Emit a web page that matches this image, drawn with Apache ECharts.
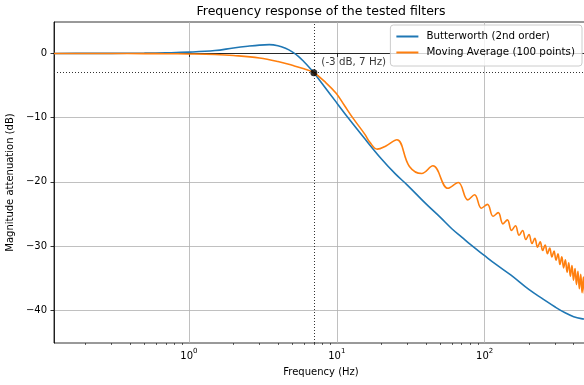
<!DOCTYPE html>
<html>
<head>
<meta charset="utf-8">
<script src="https://cdn.jsdelivr.net/npm/echarts@6/dist/echarts.min.js"></script>
<style>
html,body{margin:0;padding:0;background:#fff;}
#chart{width:584px;height:385px;}
</style>
</head>
<body>
<div id="chart"></div>
<script>
// ---- data ----
const titleText = 'Frequency response of the tested filters';
const xAxisName = 'Frequency (Hz)';
const yAxisName = 'Magnitude attenuation (dB)';
const seriesNames = ['Butterworth (2nd order)', 'Moving Average (100 points)'];

const xRange = [0.1224, 500];
const yRange = [-45.1, 4.9];
const xMajorTicks = [1, 10, 100];
const xMinorTicks = [0.2, 0.3, 0.4, 0.5, 0.6, 0.7, 0.8, 0.9,
  2, 3, 4, 5, 6, 7, 8, 9,
  20, 30, 40, 50, 60, 70, 80, 90,
  200, 300, 400];
const yTicks = [-40, -30, -20, -10, 0];

const butterFreq = [0.1224, 0.2, 0.3, 0.5, 0.7, 1, 1.5, 2, 2.5, 3, 3.5, 4, 4.5, 5, 5.5, 6, 6.5, 7,
  8, 10, 12, 15, 20, 25, 30, 40, 50, 60, 70, 80, 100, 120, 150, 200, 250, 300, 350, 400, 450, 500];
const butterDb = [0, 0.01, 0.02, 0.05, 0.1, 0.2, 0.45, 0.85, 1.12, 1.3, 1.37, 1.2, 0.8, 0.25, -0.45, -1.3, -2.15, -3.0,
  -4.75, -7.7, -10.1, -12.9, -16.4, -18.8, -20.5, -23.4, -25.5, -27.3, -28.6, -29.75, -31.5, -32.9, -34.5, -36.8, -38.3, -39.5, -40.4, -41.0, -41.3, -41.4];

const maFreq = [0.1224, 0.3, 0.5, 0.7, 1, 1.5, 2, 3, 4, 5, 6, 7, 8.3, 9.9, 11.3, 12.8, 15.5, 16.7, 18.8, 21.5, 25.5, 31, 37.5,
  44.7, 56.5, 66.3, 77, 85.5, 95,
  104.5, 114, 123.5, 133, 142.5, 152, 161.5, 171, 180.5, 190, 199.5, 209, 218.5, 228, 237.5, 247, 256.5, 266,
  275.5, 285, 294.5, 304, 313.5, 323, 332.5, 342, 351.5, 361, 370.5, 380, 389.5, 399, 408.5, 418, 427.5, 437,
  446.5, 456, 465.5, 475, 484.5, 494, 500];
const maDb = [0, -0.01, -0.02, -0.04, -0.08, -0.17, -0.32, -0.7, -1.25, -1.85, -2.4, -3.0, -4.4, -6.2, -8.15, -10.0, -12.6, -13.8, -14.9, -14.4, -13.45, -17.6, -18.7,
  -17.5, -21.0, -20.1, -22.8, -22.0, -24.1,
  -23.5, -25.36, -24.8, -26.54, -25.92, -27.55, -26.84, -28.32, -27.57, -28.99, -28.21, -29.61, -28.8, -30.17, -29.35, -30.69, -29.83, -31.18,
  -30.31, -31.71, -30.78, -32.21, -31.21, -32.87, -31.68, -33.4, -32.15, -34.07, -32.6, -34.7, -33.02, -35.33, -33.49, -36.0, -33.94, -36.65,
  -34.38, -37.26, -34.83, -37.65, -35.3, -38.04, -36.5];

const cutoffFreq = 7;
const cutoffDb = -3;

// ---- chart ----
const FONT = 'DejaVu Sans';
const zip = (a, b) => a.map((v, i) => [v, b[i]]);
const fmtY = v => (v < 0 ? '\u2212' + Math.abs(v) : String(v));

const chart = echarts.init(document.getElementById('chart'), null, {renderer: 'canvas'});
chart.setOption({
  animation: false,
  backgroundColor: '#fff',
  textStyle: {fontFamily: FONT},
  title: {
    text: titleText,
    left: 321, top: 5, padding: 0, textAlign: 'center',
    textStyle: {fontFamily: FONT, fontSize: 12.5, fontWeight: 'normal', color: '#000'}
  },
  grid: {left: 54, right: -4, top: 22, bottom: 42, containLabel: false, outerBoundsMode: 'none',
    show: true, borderColor: '#000', borderWidth: 0.8, backgroundColor: 'transparent'},
  legend: {
    data: seriesNames,
    orient: 'vertical',
    right: 2, top: 25,
    icon: 'rect', itemWidth: 22, itemHeight: 2, itemGap: 3,
    padding: [5, 7, 7, 6],
    backgroundColor: 'rgba(255,255,255,0.8)',
    borderColor: '#cccccc', borderWidth: 1, borderRadius: 3,
    textStyle: {fontFamily: FONT, fontSize: 10.3, color: '#000', lineHeight: 13, padding: [0, 0, 0, 3]}
  },
  xAxis: [{
    type: 'log', logBase: 10, min: xRange[0], max: xRange[1],
    name: xAxisName, nameLocation: 'middle', nameGap: 24,
    nameTextStyle: {fontFamily: FONT, fontSize: 10, color: '#000'},
    axisLine: {show: true, lineStyle: {color: '#000', width: 0.8}},
    axisTick: {show: true, length: 3.5, lineStyle: {color: '#000', width: 0.8}, customValues: xMajorTicks},
    axisLabel: {
      customValues: xMajorTicks, margin: 5, color: '#000', fontFamily: FONT, fontSize: 10,
      formatter: v => '{b|10}{s|' + Math.round(Math.log10(v)) + '}',
      rich: {b: {fontSize: 10, fontFamily: FONT, color: '#000', lineHeight: 13, verticalAlign: 'bottom'},
             s: {fontSize: 7, fontFamily: FONT, color: '#000', lineHeight: 13, verticalAlign: 'top', padding: [0, 0, 4, 0]}}
    },
    splitLine: {show: true, lineStyle: {color: '#b0b0b0', width: 0.8}}
  }, {
    type: 'log', logBase: 10, min: xRange[0], max: xRange[1], position: 'bottom', gridIndex: 0,
    axisLine: {show: false},
    axisTick: {show: true, length: 2, lineStyle: {color: '#000', width: 0.6}, customValues: xMinorTicks},
    axisLabel: {show: false},
    splitLine: {show: false}
  }],
  yAxis: {
    type: 'value', min: yRange[0], max: yRange[1],
    name: yAxisName, nameLocation: 'middle', nameGap: 34,
    nameTextStyle: {fontFamily: FONT, fontSize: 10, color: '#000'},
    axisLine: {show: true, lineStyle: {color: '#000', width: 0.8}},
    axisTick: {show: true, length: 3.5, lineStyle: {color: '#000', width: 0.8}, customValues: yTicks},
    axisLabel: {customValues: yTicks, margin: 7, color: '#000', fontFamily: FONT, fontSize: 10, formatter: fmtY},
    splitLine: {show: true, lineStyle: {color: '#b0b0b0', width: 0.8}}
  },
  series: [{
    name: seriesNames[0], type: 'line', xAxisIndex: 0,
    data: zip(butterFreq, butterDb),
    showSymbol: false, smooth: 0.4,
    lineStyle: {color: '#1f77b4', width: 1.6},
    itemStyle: {color: '#1f77b4'}
  }, {
    name: seriesNames[1], type: 'line', xAxisIndex: 0,
    data: zip(maFreq, maDb),
    showSymbol: false, smooth: 0.4,
    lineStyle: {color: '#ff7f0e', width: 1.6},
    itemStyle: {color: '#ff7f0e'}
  }, {
    name: 'cutoff', type: 'scatter', xAxisIndex: 0,
    data: [[cutoffFreq, cutoffDb]],
    symbolSize: 7, itemStyle: {color: '#000'}, z: 5,
    label: {
      show: true, position: 'right', distance: 4, offset: [0, -10],
      formatter: '(' + cutoffDb + ' dB, ' + cutoffFreq + ' Hz)',
      fontFamily: FONT, fontSize: 10.3, color: '#000'
    },
    markLine: {
      silent: true, symbol: 'none', label: {show: false},
      lineStyle: {color: '#333', width: 1, type: [1, 2]},
      data: [{xAxis: cutoffFreq}, {yAxis: cutoffDb}]
    }
  }]
});
</script>
</body>
</html>
